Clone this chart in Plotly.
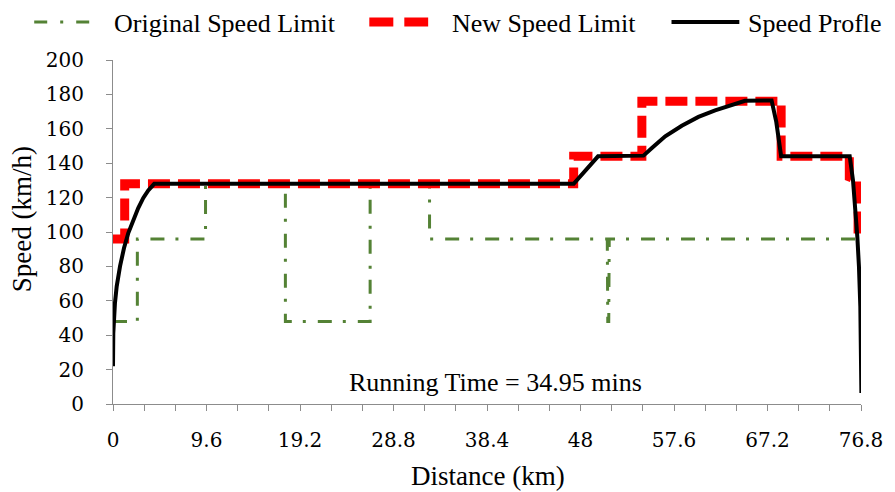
import plotly.graph_objects as go

# ---------------- data ----------------
orig_km = [0, 2.5, 2.5, 9.5, 9.5, 17.7, 17.7, 26.4, 26.4, 32.5, 32.5, 50.75, 50.8, 50.9, 50.95, 76.8]
orig_speed = [48, 48, 96, 96, 128, 128, 48, 48, 128, 128, 96, 96, 48, 48, 96, 96]

new_km = [0, 1.2, 1.2, 47.3, 47.3, 54.3, 54.3, 68.6, 68.6, 75.6, 75.6, 76.5, 76.5]
new_speed = [96, 96, 128, 128, 144, 144, 176, 176, 144, 144, 132, 130, 96]

prof_km = [0, 0.03, 0.2, 0.38, 0.72, 1.13, 1.57, 2.08, 2.59, 3.11, 3.62, 4.23,
           47.3, 49.8, 54.47, 55.33, 56.7, 58.4, 60.11, 61.82, 63.52, 64.89, 67.62,
           68.1, 68.6, 75.64, 75.98, 76.22, 76.42, 76.59, 76.73, 76.84]
prof_speed = [22, 41, 58.7, 68.4, 80, 90.7, 99.4, 107.2, 113.9, 119.8, 124.2, 128,
              128, 144, 144.4, 148.8, 155.6, 161.8, 166.9, 170.7, 174, 176.3, 176.5,
              164, 144, 144, 130, 114.9, 97.4, 80, 56.7, 6.4]

x_tick_vals = [0, 9.6, 19.2, 28.8, 38.4, 48, 57.6, 67.2, 76.8]
x_tick_labels = ["0", "9.6", "19.2", "28.8", "38.4", "48", "57.6", "67.2", "76.8"]
x_minor_step = 3.2

series_names = ["Original Speed Limit", "New Speed Limit", "Speed Profle"]
annotation_text = "Running Time = 34.95 mins"

# ---------------- layout helpers ----------------
W, H = 895, 492
PL, PR, PT, PB = 113, 863, 60, 404


def fx(p):
    return (p - PL) / (PR - PL)


def fy(p):
    return (PB - p) / (PB - PT)


GREEN = "#548235"
RED = "#FF0000"
BLACK = "#000000"
AXIS = "#8C8C8C"
SERIF = "'Liberation Serif', 'Times New Roman', Times, serif"
TICKFONT = "'DejaVu Serif', 'Liberation Serif', serif"

fig = go.Figure()
fig.add_trace(go.Scatter(x=orig_km, y=orig_speed, mode="lines", name=series_names[0],
                         line=dict(color=GREEN, width=3, dash="14px,11px,3px,12px"),
                         showlegend=False))
fig.add_trace(go.Scatter(x=new_km, y=new_speed, mode="lines", name=series_names[1],
                         line=dict(color=RED, width=9, dash="22px,8px"),
                         showlegend=False))
fig.add_trace(go.Scatter(x=prof_km, y=prof_speed, mode="lines", name=series_names[2],
                         line=dict(color=BLACK, width=4),
                         showlegend=False))

# custom legend
shapes = [
    dict(type="line", xref="paper", yref="paper", x0=fx(34), x1=fx(91), y0=fy(22), y1=fy(22),
         line=dict(color=GREEN, width=3, dash="13px,13px,3px,13px")),
    dict(type="line", xref="paper", yref="paper", x0=fx(370), x1=fx(429), y0=fy(22), y1=fy(22),
         line=dict(color=RED, width=9, dash="24px,11px")),
    dict(type="line", xref="paper", yref="paper", x0=fx(673), x1=fx(741), y0=fy(22), y1=fy(22),
         line=dict(color=BLACK, width=4)),
]
annotations = []
for name, xpx in zip(series_names, [112, 451, 748]):
    annotations.append(dict(text=name, xref="paper", yref="paper", x=fx(xpx), y=fy(23),
                            xanchor="left", yanchor="middle", showarrow=False,
                            font=dict(family=SERIF, size=26, color="black")))

annotations.append(dict(text=annotation_text, xref="paper", yref="paper", x=fx(497), y=fy(382),
                        xanchor="center", yanchor="middle", showarrow=False,
                        font=dict(family=SERIF, size=26, color="black")))
annotations.append(dict(text="Distance (km)", xref="paper", yref="paper", x=fx(489), y=fy(476),
                        xanchor="center", yanchor="middle", showarrow=False,
                        font=dict(family=SERIF, size=27, color="black")))
annotations.append(dict(text="Speed (km/h)", xref="paper", yref="paper", x=fx(22), y=fy(219),
                        xanchor="center", yanchor="middle", showarrow=False, textangle=-90,
                        font=dict(family=SERIF, size=27, color="black")))

fig.update_layout(
    width=W, height=H,
    margin=dict(l=PL, r=W - PR, t=PT, b=H - PB, pad=0),
    paper_bgcolor="white", plot_bgcolor="white",
    font=dict(family=SERIF, color="black"),
    shapes=shapes, annotations=annotations,
    showlegend=False,
)
fig.update_xaxes(
    range=[0, 76.8], tickmode="array", tickvals=x_tick_vals, ticktext=x_tick_labels,
    showgrid=False, zeroline=False, showline=True, linecolor=AXIS, linewidth=1,
    ticks="outside", ticklen=6, tickcolor=AXIS, tickwidth=1,
    ticklabelstandoff=12,
    tickfont=dict(family=TICKFONT, size=20, color="black"),
    minor=dict(tickmode="array",
               tickvals=[i * x_minor_step for i in range(int(round(76.8 / x_minor_step)) + 1)],
               ticks="outside", ticklen=6, tickcolor=AXIS, tickwidth=1, showgrid=False),
)
fig.update_yaxes(
    range=[0, 200], dtick=20, tick0=0,
    showgrid=False, zeroline=False, showline=True, linecolor=AXIS, linewidth=1,
    ticks="outside", ticklen=6, tickcolor=AXIS, tickwidth=1,
    ticklabelstandoff=18,
    tickfont=dict(family=TICKFONT, size=20, color="black"),
)

fig.write_html("out.html")
